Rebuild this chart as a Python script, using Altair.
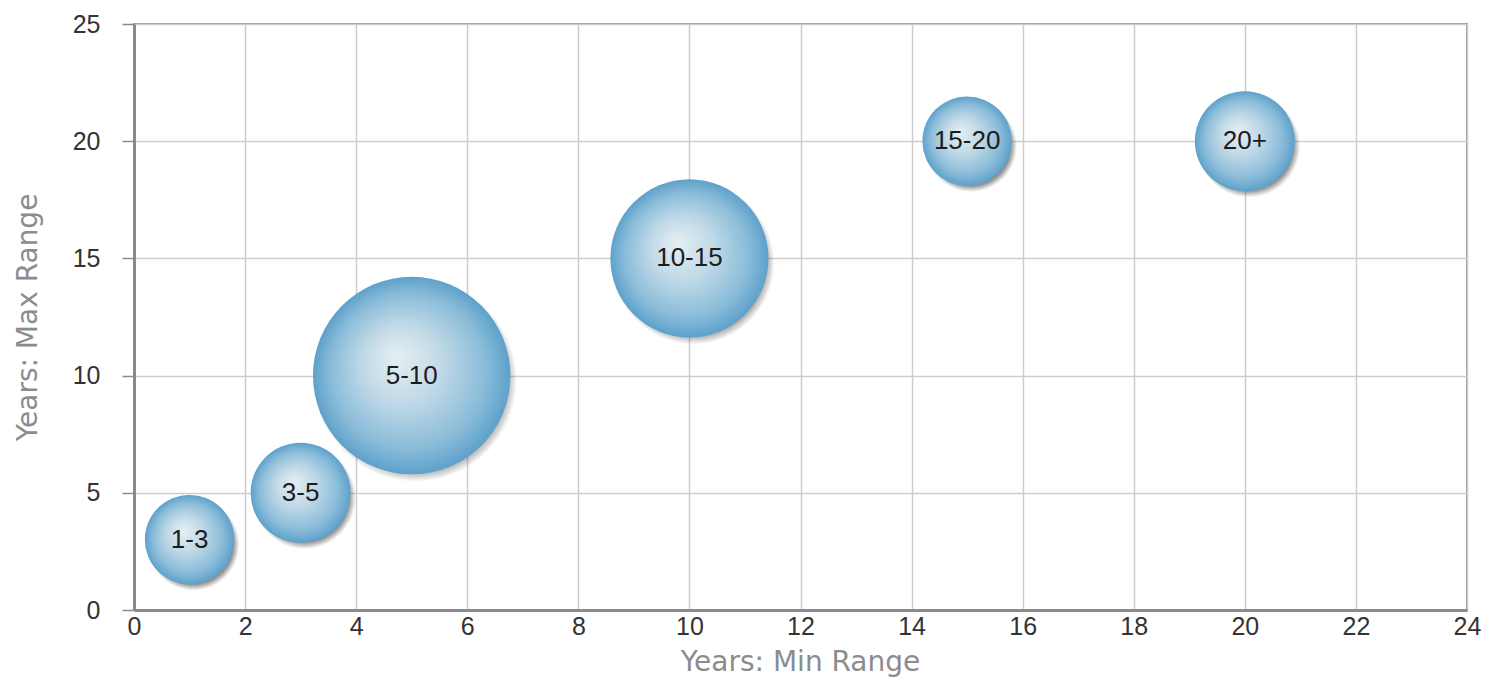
import altair as alt
import pandas as pd

# Tenure bands: min years, max years, share (bubble size)
labels = ["1-3", "3-5", "5-10", "10-15", "15-20", "20+"]
min_years = [1, 3, 5, 10, 15, 20]
max_years = [3, 5, 10, 15, 20, 20]
share = [8, 10, 39, 25, 8, 10]

df = pd.DataFrame({
    "label": labels,
    "min_years": min_years,
    "max_years": max_years,
    "share": share,
})
# Drop shadow is a touch larger than the bubble it sits under
df["shadow"] = df["share"] * 1.05

x_enc = alt.X(
    "min_years:Q",
    scale=alt.Scale(domain=[0, 24], nice=False, zero=True),
    axis=alt.Axis(
        title="Years: Min Range",
        values=list(range(0, 25, 2)),
        ticks=False,
        labelPadding=4,
        labelFlush=False,
        labelOverlap=False,
        titleX=666,
        titleY=60,
        titleBaseline="alphabetic",
        titleAlign="center",
    ),
)
y_enc = alt.Y(
    "max_years:Q",
    scale=alt.Scale(domain=[0, 25], nice=False, zero=True),
    axis=alt.Axis(
        title="Years: Max Range",
        values=list(range(0, 26, 5)),
        ticks=True,
        tickSize=12,
        labelPadding=22,
        labelFlush=False,
        labelOverlap=False,
        titleAngle=-90,
        titleX=-106,
        titleY=293,
        titleAlign="center",
        titleBaseline="middle",
    ),
)
size_scale = alt.Scale(domain=[0, 40], range=[0, 40000])

# Glossy sphere look: pale highlight slightly up-left, deeper blue at the rim
sphere_fill = alt.Gradient(
    gradient="radial",
    x1=0.42, y1=0.40, r1=0.0,
    x2=0.5, y2=0.5, r2=0.5,
    stops=[
        alt.GradientStop(offset=0.0, color="#e6eff3"),
        alt.GradientStop(offset=0.4, color="#c0d9e7"),
        alt.GradientStop(offset=0.78, color="#8abcd9"),
        alt.GradientStop(offset=1.0, color="#5ea1cb"),
    ],
)
shadow_fill = alt.Gradient(
    gradient="radial",
    x1=0.5, y1=0.5, r1=0.0,
    x2=0.5, y2=0.5, r2=0.5,
    stops=[
        alt.GradientStop(offset=0.0, color="rgba(50,50,50,0.6)"),
        alt.GradientStop(offset=0.86, color="rgba(50,50,50,0.55)"),
        alt.GradientStop(offset=1.0, color="rgba(50,50,50,0)"),
    ],
)

base = alt.Chart(df).encode(x=x_enc, y=y_enc)

shadow = base.mark_circle(fill=shadow_fill, opacity=1, xOffset=4, yOffset=5).encode(
    size=alt.Size("shadow:Q", scale=size_scale, legend=None)
)
bubbles = base.mark_circle(fill=sphere_fill, opacity=1).encode(
    size=alt.Size("share:Q", scale=size_scale, legend=None)
)
text = base.mark_text(
    font="Liberation Sans", fontSize=26, color="#1c1c1c", baseline="middle", align="center"
).encode(text="label:N")

chart = (
    alt.layer(shadow, bubbles, text)
    .properties(
        width=1333,
        height=586,
        padding={"left": 134, "top": 24, "right": 19, "bottom": 67},
        autosize="none",
        background="white",
    )
    .configure_view(stroke="#9a9a9a", strokeWidth=2)
    .configure_axis(
        grid=True,
        gridColor="#cdcdcd",
        gridWidth=1.5,
        domainColor="#8a8a8a",
        domainWidth=3,
        tickColor="#8a8a8a",
        tickWidth=1.5,
        labelFont="Liberation Sans",
        labelFontSize=25,
        labelColor="#333333",
        titleFont="DejaVu Sans",
        titleFontSize=28,
        titleFontWeight="normal",
        titleColor="#8c8c8c",
    )
)

chart.save("out.html", embed_options={"renderer": "svg", "actions": False})
